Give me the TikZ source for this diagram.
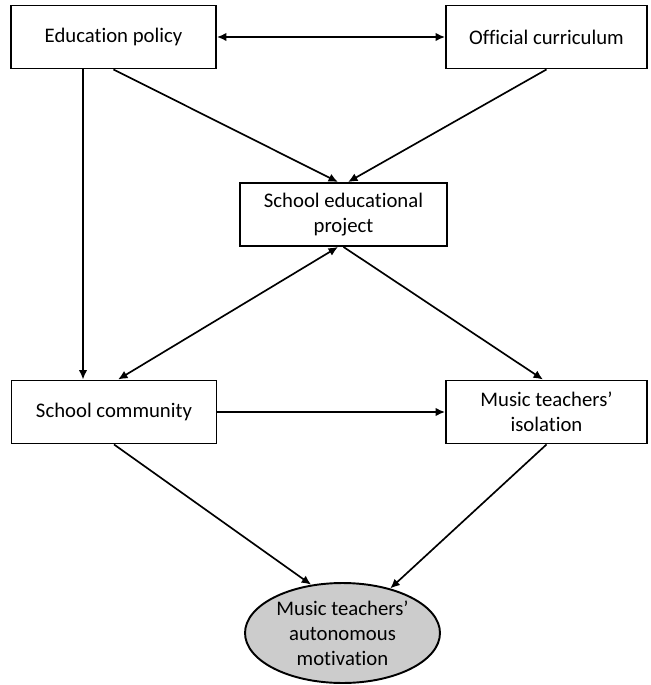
\documentclass[tikz,border=0pt]{standalone}
\usepackage{fontspec}
\setmainfont{Carlito}[Ligatures={TeX,NoCommon}]
\usetikzlibrary{shapes,arrows,arrows.meta,positioning}

\begin{document}
\begin{tikzpicture}[x=0.02cm, y=-0.02cm, >={Latex[length=1.9mm,width=1.7mm]},
    box/.style={draw, line width=1.1pt, minimum width=4.1cm, minimum height=1.26cm,
        align=center, inner sep=0pt, font=\fontsize{11.8}{14.5}\selectfont},
    outcome/.style={ellipse, draw, line width=1.1pt, fill=black!20, minimum width=3.9cm,
        minimum height=2cm, align=center, inner sep=0pt, font=\fontsize{11.8}{14.2}\selectfont},
    link/.style={line width=0.95pt}]
    \useasboundingbox (0,0) rectangle (650,685);

    \node[box] (edu) at (113.5,37) {Education policy};
    \node[box, minimum width=4.02cm] (curr) at (546.5,37) {Official curriculum};
    \node[box, minimum width=4.14cm] (sep) at (343.5,214.5) {School educational\\project};
    \node[box] (comm) at (114,412) {School community};
    \node[box, minimum width=4.02cm] (iso) at (546.5,412) {Music teachers’\\isolation};
    \node[outcome] (mot) at (342.5,633) {Music teachers’\\autonomous\\motivation};

    \draw[link, <->] (edu.east) -- (curr.west);
    \draw[link, ->] ([xshift=-0.61cm]edu.south) -- ([xshift=-0.61cm]edu.south |- comm.north);
    \draw[link, ->] (edu.south) -- ([xshift=-0.11cm]sep.north);
    \draw[link, ->] (curr.south) -- ([xshift=0.09cm]sep.north);

    \draw[link, <->] ([xshift=-0.11cm]sep.south) -- ([xshift=0.08cm]comm.north);
    \draw[link, ->] (sep.south) -- ([xshift=-0.07cm]iso.north);
    \draw[link, ->] (comm.east) -- (iso.west);

    \draw[link, ->] (comm.south) -- (mot.123);
    \draw[link, ->] (iso.south) -- (mot.43);
\end{tikzpicture}
\end{document}
